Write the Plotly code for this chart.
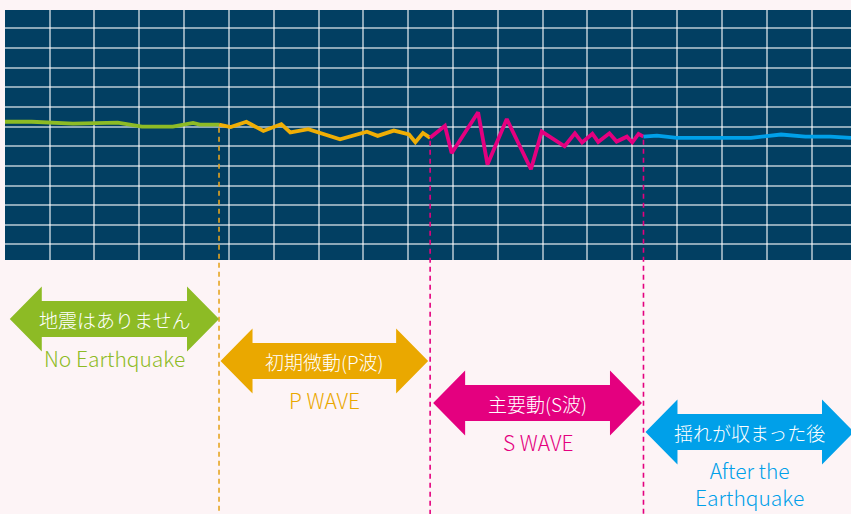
import plotly.graph_objects as go

# ---- data (x in grid units, amplitude in grid units) ----
green_x = [0.00, 0.60, 1.52, 2.52, 3.06, 3.75, 4.20, 4.35, 4.78]
green_y = [0.25, 0.25, 0.15, 0.21, 0.00, 0.00, 0.19, 0.10, 0.10]

orange_x = [4.78, 5.04, 5.39, 5.77, 6.17, 6.37, 6.77, 7.48, 8.08, 8.32, 8.68, 9.02, 9.16, 9.33, 9.49]
orange_y = [0.10, -0.02, 0.25, -0.22, 0.13, -0.29, -0.13, -0.64, -0.26, -0.47, -0.20, -0.40, -0.79, -0.32, -0.57]

pink_x = [9.49, 9.82, 9.97, 10.56, 10.77, 11.20, 11.74, 11.98, 12.49, 12.72, 12.88, 13.11, 13.24,
          13.49, 13.65, 13.88, 14.00, 14.14, 14.25]
pink_y = [-0.57, 0.04, -1.35, 0.73, -1.93, 0.39, -2.17, -0.25, -1.00, -0.34, -0.81, -0.36, -0.78,
          -0.34, -0.76, -0.51, -0.80, -0.37, -0.51]

cyan_x = [14.25, 14.55, 14.99, 16.65, 17.32, 17.86, 18.42, 18.88]
cyan_y = [-0.51, -0.46, -0.57, -0.57, -0.40, -0.51, -0.51, -0.57]

phase_jp = ["地震はありません", "初期微動(P波)", "主要動(S波)", "揺れが収まった後"]
phase_en = ["No Earthquake", "P WAVE", "S WAVE", "After the<br>Earthquake"]
phase_colors = ["#8dbb25", "#eaa800", "#e4007f", "#00a0e9"]
line_colors = ["#8dbb25", "#efae05", "#e4007f", "#00a0e9"]
dash_colors = ["#e6a522", "#e4007f", "#e4007f"]

series_x = [green_x, orange_x, pink_x, cyan_x]
series_y = [green_y, orange_y, pink_y, cyan_y]

# ---- layout geometry ----
W, H = 851, 514
M_L, M_R, M_T, M_B = 5, 0, 10, 254
PLOT_H = H - M_T - M_B
PLOT_W = W - M_L - M_R
X_RANGE = [0.005, 18.88]
Y_RANGE = [-6.79, 5.94]
PX_PER_X = PLOT_W / (X_RANGE[1] - X_RANGE[0])


def paper_from_px(py):
    return (M_T + PLOT_H - py) / PLOT_H


def paper_from_amp(a):
    return (a - Y_RANGE[0]) / (Y_RANGE[1] - Y_RANGE[0])


fig = go.Figure()
for xs, ys, c in zip(series_x, series_y, line_colors):
    fig.add_trace(go.Scatter(x=xs, y=ys, mode="lines",
                             line=dict(color=c, width=3.8),
                             hoverinfo="skip", showlegend=False))

# phase boundaries derived from the series
bounds = [green_x[0], orange_x[0], pink_x[0], cyan_x[0], cyan_x[-1]]
bound_amp = [green_y[0], orange_y[0], pink_y[0], cyan_y[0]]

shapes = []
# dashed separators
for i in range(1, 4):
    shapes.append(dict(type="line", xref="x", yref="paper",
                       x0=bounds[i], x1=bounds[i],
                       y0=paper_from_amp(bound_amp[i]) - 0.012, y1=paper_from_px(H + 2),
                       line=dict(color=dash_colors[i - 1], width=1.6, dash="5px,4px"),
                       layer="above"))

# double arrows
centers_px = [319, 361, 403, 432]
left_gap_px = [5, 1.5, 3, 2]
right_gap_px = [0, 2, 1.5, -3]
head_len = 32 / PX_PER_X
head_h = 32.5 / PLOT_H
shaft_h = 18 / PLOT_H
annotations = []
for i in range(4):
    xl = bounds[i] + left_gap_px[i] / PX_PER_X
    xr = bounds[i + 1] - right_gap_px[i] / PX_PER_X
    yc = paper_from_px(centers_px[i])
    pts = [
        (xl, yc), (xl + head_len, yc + head_h), (xl + head_len, yc + shaft_h),
        (xr - head_len, yc + shaft_h), (xr - head_len, yc + head_h), (xr, yc),
        (xr - head_len, yc - head_h), (xr - head_len, yc - shaft_h),
        (xl + head_len, yc - shaft_h), (xl + head_len, yc - head_h),
    ]
    path = "M " + " L ".join(f"{px},{py}" for px, py in pts) + " Z"
    shapes.append(dict(type="path", xref="x", yref="paper", path=path,
                       fillcolor=phase_colors[i], line=dict(width=0), layer="above"))
    xm = (xl + xr) / 2
    annotations.append(dict(x=xm, y=yc, xref="x", yref="paper", text=phase_jp[i],
                            showarrow=False, xanchor="center", yanchor="middle",
                            font=dict(family="Noto Sans CJK JP", size=19, color="white",
                                      weight=300)))
    en_off = 51 if "<br>" in phase_en[i] else 38.5
    annotations.append(dict(x=xm, y=paper_from_px(centers_px[i] + en_off), xref="x", yref="paper",
                            text=phase_en[i], showarrow=False, xanchor="center", yanchor="middle",
                            font=dict(family="Noto Sans CJK JP", size=21, color=phase_colors[i],
                                      weight=300)))

fig.update_layout(
    width=W, height=H,
    margin=dict(l=M_L, r=M_R, t=M_T, b=M_B, pad=0),
    paper_bgcolor="#fdf4f6",
    plot_bgcolor="#023f62",
    shapes=shapes,
    annotations=annotations,
    xaxis=dict(range=X_RANGE, tick0=0, dtick=1, showgrid=True,
               gridcolor="rgba(255,255,255,0.55)", gridwidth=1.6,
               zeroline=False, showline=False, showticklabels=False, ticks=""),
    yaxis=dict(range=Y_RANGE, tick0=0, dtick=1, showgrid=True,
               gridcolor="rgba(255,255,255,0.55)", gridwidth=1.6,
               zeroline=False, showline=False, showticklabels=False, ticks=""),
)

fig.write_html(
    "out.html",
    config={"displayModeBar": False},
    post_script="document.body.style.margin='0';document.body.style.overflow='hidden';"
                "document.body.style.background='#fdf4f6';",
)
